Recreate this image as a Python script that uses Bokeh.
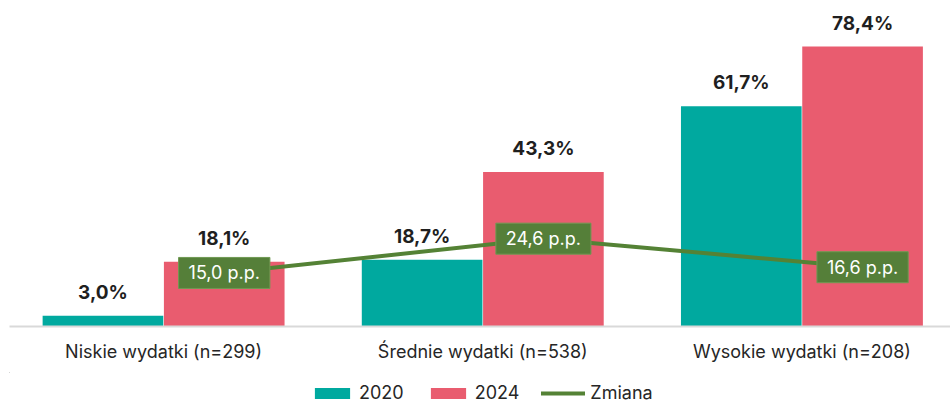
from bokeh.plotting import figure
from bokeh.models import ColumnDataSource, Legend, LegendItem, Range1d, FixedTicker
from bokeh.layouts import column
from bokeh.core.properties import value
from bokeh.embed import file_html
from bokeh.resources import INLINE

categories = ["Niskie wydatki (n=299)", "Średnie wydatki (n=538)", "Wysokie wydatki (n=208)"]
v2020 = [3.0, 18.7, 61.7]
v2024 = [18.1, 43.3, 78.4]
zmiana = [15.0, 24.6, 16.6]

FONT = "Inter"
TEAL = "#00A99F"
PINK = "#E95C6F"
GREEN = "#548235"

xs = list(range(len(categories)))
off = 0.19
bw = 0.378

def fmt(v):
    return f"{v:.1f}".replace(".", ",")

s20 = ColumnDataSource(dict(x=[x - off for x in xs], y=v2020, lab=[fmt(v) + "%" for v in v2020]))
s24 = ColumnDataSource(dict(x=[x + off for x in xs], y=v2024, lab=[fmt(v) + "%" for v in v2024]))
sz = ColumnDataSource(dict(x=[x + off for x in xs], y=zmiana, lab=[fmt(v) + " p.p." for v in zmiana]))

p = figure(width=950, height=372, output_backend="svg", toolbar_location=None,
           x_range=Range1d(-0.4828, 2.4655), y_range=Range1d(0, 88.5),
           min_border_left=9, min_border_right=0, min_border_top=10, min_border_bottom=46)
p.outline_line_color = None
p.background_fill_color = "white"
p.xgrid.visible = False
p.ygrid.visible = False
p.yaxis.visible = False

r20 = p.vbar(x="x", top="y", width=bw, source=s20, fill_color=TEAL, line_color=None)
r24 = p.vbar(x="x", top="y", width=bw, source=s24, fill_color=PINK, line_color=None)
rz = p.line(x="x", y="y", source=sz, line_color=GREEN, line_width=4, line_cap="round")

for src in (s20, s24):
    p.text(x="x", y="y", text="lab", source=src, text_align="center", text_baseline="bottom",
           y_offset=-12, text_font=value(FONT), text_font_size="19px", text_font_style="bold",
           text_color="#1f1f1f")

p.text(x="x", y="y", text="lab", source=sz, text_align="center", text_baseline="middle",
       text_font=value(FONT), text_font_size="18px", text_color="white",
       background_fill_color="#557f39", border_line_color="#6f9a52", border_line_width=1,
       padding=[10, 5])

ax = p.xaxis[0]
ax.ticker = FixedTicker(ticks=xs)
ax.major_label_overrides = {i: c for i, c in enumerate(categories)}
ax.major_tick_line_color = None
ax.minor_tick_line_color = None
ax.major_tick_out = 0
ax.minor_tick_out = 0
ax.axis_line_color = "#d9d9d9"
ax.axis_line_width = 2
ax.major_label_text_font = FONT
ax.major_label_text_font_size = "18px"
ax.major_label_text_color = "#262626"
ax.major_label_standoff = 14

# legend strip below the chart (same data, drawn far outside the strip's visible range)
lg = figure(width=950, height=36, output_backend="svg", toolbar_location=None,
            x_range=Range1d(1000, 1001), y_range=Range1d(-1000, -999),
            min_border=0, x_axis_location=None, y_axis_location=None)
lg.outline_line_color = None
lg.xgrid.visible = False
lg.ygrid.visible = False
l20 = lg.vbar(x="x", top="y", width=bw, source=s20, fill_color=TEAL, line_color=None)
l24 = lg.vbar(x="x", top="y", width=bw, source=s24, fill_color=PINK, line_color=None)
lz = lg.line(x="x", y="y", source=sz, line_color=GREEN, line_width=4, line_cap="round")

legend = Legend(items=[LegendItem(label="2020", renderers=[l20]),
                       LegendItem(label="2024", renderers=[l24]),
                       LegendItem(label="Zmiana", renderers=[lz])],
                orientation="horizontal", location=(301, 5),
                label_text_font=FONT, label_text_font_size="18px", label_text_color="#262626",
                glyph_width=44, glyph_height=14, spacing=22, border_line_color=None,
                background_fill_alpha=0, padding=0, margin=0, label_standoff=5)
lg.add_layout(legend)

layout = column(p, lg, spacing=0)
open("out.html", "w").write(file_html(layout, INLINE))
